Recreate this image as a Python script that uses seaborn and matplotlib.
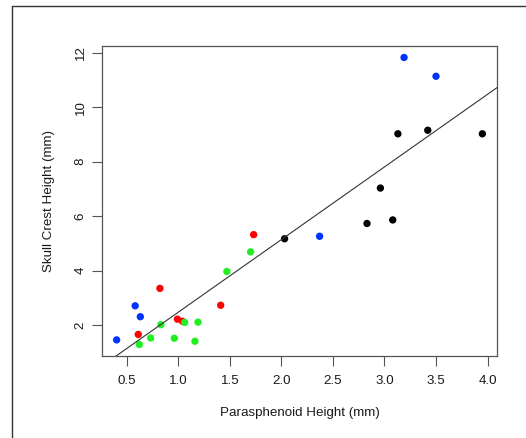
import numpy as np
import pandas as pd
import matplotlib
matplotlib.use('Agg')
import matplotlib.pyplot as plt
from matplotlib.lines import Line2D
import seaborn as sns

blue_x = [0.40, 0.58, 0.63, 2.37, 3.19, 3.50]
blue_y = [1.46, 2.71, 2.31, 5.26, 11.82, 11.13]
red_x = [0.61, 0.82, 0.99, 1.04, 1.41, 1.73]
red_y = [1.66, 3.35, 2.22, 2.14, 2.73, 5.32]
green_x = [0.62, 0.73, 0.83, 0.96, 1.06, 1.16, 1.19, 1.47, 1.70]
green_y = [1.29, 1.53, 2.02, 1.52, 2.10, 1.41, 2.11, 3.97, 4.69]
black_x = [2.03, 2.83, 2.96, 3.08, 3.13, 3.42, 3.95]
black_y = [5.17, 5.73, 7.03, 5.86, 9.02, 9.15, 9.02]

groups = ['blue', 'red', 'green', 'black']
palette = {'blue': '#0033ff', 'red': '#ff0000', 'green': '#22ee22', 'black': '#000000'}

df = pd.concat([
    pd.DataFrame({'x': blue_x, 'y': blue_y, 'grp': 'blue'}),
    pd.DataFrame({'x': red_x, 'y': red_y, 'grp': 'red'}),
    pd.DataFrame({'x': green_x, 'y': green_y, 'grp': 'green'}),
    pd.DataFrame({'x': black_x, 'y': black_y, 'grp': 'black'}),
], ignore_index=True)

sns.set_style('white')
plt.rcParams['font.family'] = ['Liberation Sans', 'DejaVu Sans']
plt.rcParams['font.size'] = 9.6

fig = plt.figure(figsize=(5.26, 4.38), dpi=100)
ax = fig.add_axes([102 / 526, 1 - 356 / 438, 395 / 526, 310 / 438])

sns.scatterplot(data=df, x='x', y='y', hue='grp', palette=palette,
                hue_order=groups, s=28, edgecolor='none', legend=False, ax=ax)

# least squares line through all points
slope, intercept = np.polyfit(df['x'], df['y'], 1)
xs = np.array([0.0, 5.0])
ax.plot(xs, intercept + slope * xs, color='#333333', lw=0.8, zorder=1)

# R style 4% padding
xr = df['x'].max() - df['x'].min()
yr = df['y'].max() - df['y'].min()
ax.set_xlim(df['x'].min() - 0.04 * xr, df['x'].max() + 0.04 * xr)
ax.set_ylim(df['y'].min() - 0.04 * yr, df['y'].max() + 0.04 * yr)

ax.set_xticks(np.arange(0.5, 4.01, 0.5))
ax.set_xticklabels([f'{v:.1f}' for v in np.arange(0.5, 4.01, 0.5)])
ax.set_yticks([2, 4, 6, 8, 10, 12])
ax.set_yticklabels(['2', '4', '6', '8', '10', '12'], rotation=90, va='center')

ax.tick_params(axis='both', direction='out', length=7, width=0.8,
               color='#555555', labelcolor='#1a1a1a',
               bottom=True, left=True)
ax.tick_params(axis='x', pad=7)
ax.tick_params(axis='y', pad=4)
for sp in ax.spines.values():
    sp.set_color('#555555')
    sp.set_linewidth(0.9)

ax.set_xlabel('Parasphenoid Height (mm)', labelpad=14, color='#1a1a1a')
ax.set_ylabel('Skull Crest Height (mm)', labelpad=14, color='#1a1a1a')

# outer frame of the screenshot
fig.add_artist(Line2D([12 / 526, 12 / 526], [0, 1 - 6 / 438],
                      transform=fig.transFigure, color='#333333', lw=1))
fig.add_artist(Line2D([12 / 526, 1], [1 - 6 / 438, 1 - 6 / 438],
                      transform=fig.transFigure, color='#333333', lw=1))

fig.savefig('out.png', dpi=100, facecolor='white')
